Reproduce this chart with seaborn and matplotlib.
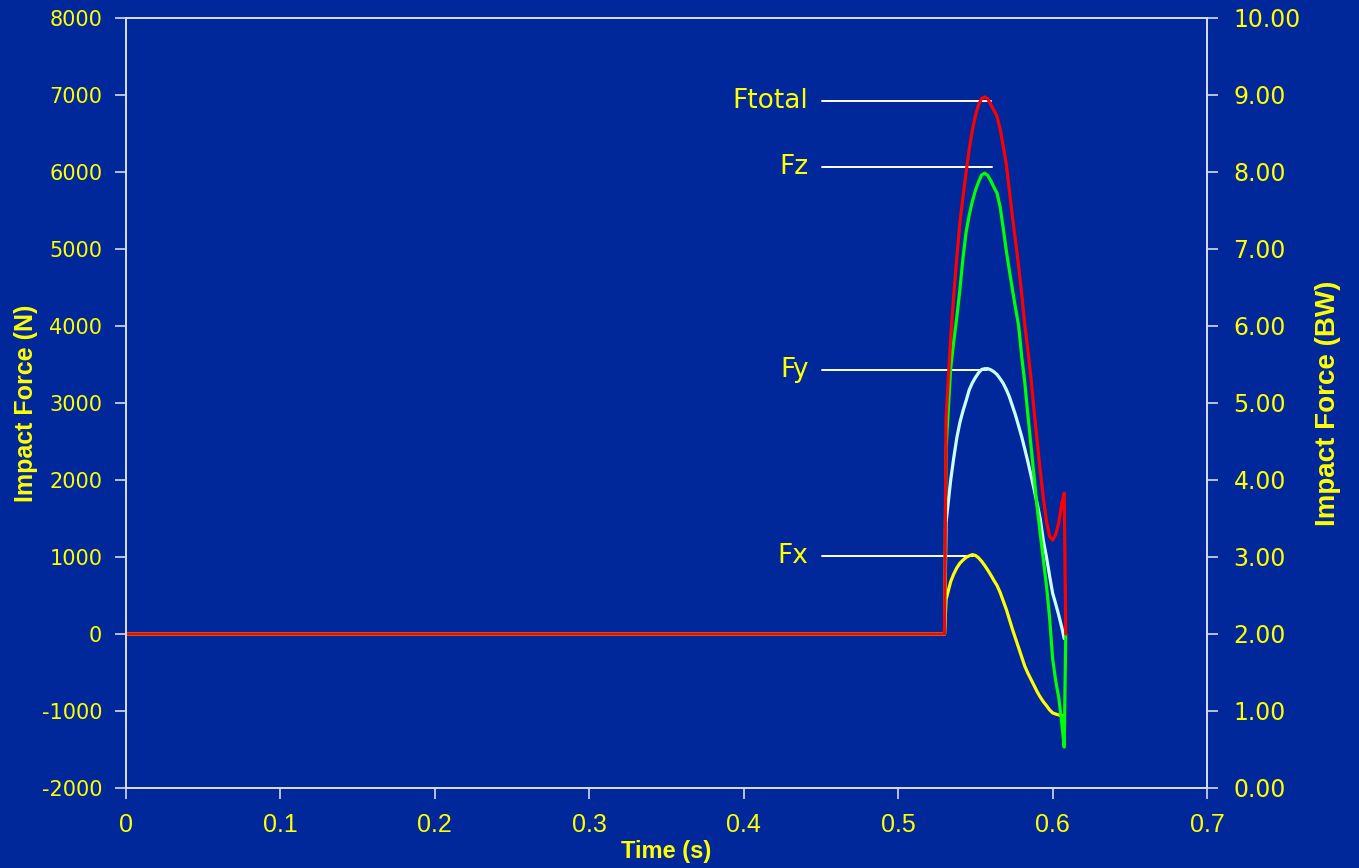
import numpy as np
import pandas as pd
import matplotlib
matplotlib.use("Agg")
import matplotlib.pyplot as plt
import seaborn as sns

# ---------------- data ----------------
time_s = [0.000, 0.530, 0.531,
          0.534, 0.536, 0.538, 0.540, 0.542, 0.544, 0.546, 0.548, 0.550, 0.552,
          0.554, 0.556, 0.558, 0.560, 0.562, 0.564, 0.566, 0.568, 0.570, 0.572,
          0.574, 0.576, 0.578, 0.580, 0.582, 0.584, 0.586, 0.588, 0.590, 0.592,
          0.594, 0.596, 0.598, 0.600, 0.602, 0.604, 0.606, 0.6075, 0.6085]

ftotal = [0, 0, 2800, 3850, 4400, 4900, 5350, 5680, 6000, 6300,
          6540, 6730, 6870, 6955, 6975, 6950, 6875, 6800, 6720, 6560,
          6340, 6100, 5760, 5410, 5100, 4770, 4410, 4010, 3680, 3320,
          2900, 2500, 2120, 1760, 1470, 1270, 1220, 1290, 1450, 1700,
          1830, 0]

fz = [0, 0, 2400, 3450, 3800, 4120, 4480, 4890, 5220, 5440,
      5615, 5760, 5870, 5960, 5985, 5955, 5885, 5800, 5725, 5550,
      5270, 4980, 4720, 4470, 4230, 4000, 3600, 3260, 2840, 2440,
      2040, 1640, 1300, 960, 630, 220, -320, -610, -830, -1170,
      -1470, 0]

fy = [0, 0, 1450, 2000, 2290, 2550, 2750, 2900, 3030, 3170,
      3260, 3330, 3390, 3435, 3445, 3446, 3430, 3405, 3370, 3315,
      3255, 3175, 3080, 2960, 2840, 2700, 2560, 2400, 2235, 2060,
      1880, 1690, 1490, 1210, 1000, 760, 530, 390, 240, 80,
      -60, np.nan]

fx = [0, 0, 450, 680, 780, 860, 920, 960, 995, 1015,
      1030, 1020, 990, 945, 890, 830, 765, 695, 630, 540,
      430, 320, 190, 60, -60, -180, -300, -420, -510, -590,
      -670, -750, -820, -880, -930, -985, -1025, -1040, -1052, -1062,
      -1065, np.nan]

components = ["Fx", "Fy", "Fz", "Ftotal"]
colors = {"Fx": "#FFFF00", "Fy": "#CCFFFF", "Fz": "#00FF00", "Ftotal": "#FF0000"}

# label annotations (name, force level, end of leader line in time)
label_names = ["Ftotal", "Fz", "Fy", "Fx"]
label_force = [6920, 6065, 3430, 1013]
label_line_end = [0.5602, 0.5609, 0.5576, 0.5486]
label_line_start = 0.4508
label_text_x = 0.4420

x_ticks = [0.0, 0.1, 0.2, 0.3, 0.4, 0.5, 0.6, 0.7]
x_tick_labels = ["0", "0.1", "0.2", "0.3", "0.4", "0.5", "0.6", "0.7"]
yl_ticks = [-2000, -1000, 0, 1000, 2000, 3000, 4000, 5000, 6000, 7000, 8000]
yr_ticks = [0, 1, 2, 3, 4, 5, 6, 7, 8, 9, 10]

# ---------------- style ----------------
BG = "#00289A"
SPINE = "#D8DCE8"
TXT = "#FFFF00"

sns.set_theme(style="ticks")
plt.rcParams["font.family"] = ["Liberation Sans", "DejaVu Sans"]

fig = plt.figure(figsize=(13.59, 8.68), dpi=100)
fig.patch.set_facecolor(BG)
ax = fig.add_axes([0.0927, 0.0922, 0.7955, 0.8871])
ax.set_facecolor(BG)

df = pd.DataFrame({"Time": time_s, "Fx": fx, "Fy": fy, "Fz": fz, "Ftotal": ftotal})
long = df.melt(id_vars="Time", var_name="Component", value_name="Force").dropna()

sns.lineplot(data=long, x="Time", y="Force", hue="Component",
             hue_order=components, palette=colors, estimator=None,
             sort=False, linewidth=2.3, legend=False, ax=ax)

ax.set_xlim(0, 0.7)
ax.set_ylim(-2000, 8000)
ax.set_xticks(x_ticks)
ax.set_xticklabels(x_tick_labels)
ax.set_yticks(yl_ticks)
ax.set_yticklabels([str(v) for v in yl_ticks])

for s in ["left", "right", "top", "bottom"]:
    ax.spines[s].set_visible(True)
    ax.spines[s].set_color(SPINE)
    ax.spines[s].set_linewidth(1.3)

ax.tick_params(axis="x", bottom=True, top=False, direction="out", length=8,
               width=1.2, color=SPINE, labelcolor=TXT, labelsize=18, pad=10)
ax.tick_params(axis="y", left=True, right=False, direction="out", length=8,
               width=1.2, color=SPINE, labelcolor=TXT, labelsize=15, pad=9)
for lab in ax.get_yticklabels():
    lab.set_fontfamily("DejaVu Sans")

ax.set_xlabel("Time (s)", color=TXT, fontsize=17, fontweight="bold", labelpad=2)
ax.set_ylabel("Impact Force (N)", color=TXT, fontsize=18, fontweight="bold", labelpad=3)

# leader lines and labels
for name, fy_, xe in zip(label_names, label_force, label_line_end):
    ax.plot([label_line_start, xe], [fy_, fy_], color="white", linewidth=1.4, zorder=1)
    ax.text(label_text_x, fy_, name, color=TXT, fontsize=19, ha="right",
            va="center", family="DejaVu Sans")

# right axis in body weights
ax2 = ax.twinx()
ax2.set_ylim(0, 10)
ax2.set_yticks(yr_ticks)
ax2.set_yticklabels([f"{v:.2f}" for v in yr_ticks])
for s in ["left", "right", "top", "bottom"]:
    ax2.spines[s].set_color(SPINE)
    ax2.spines[s].set_linewidth(1.3)
ax2.tick_params(axis="y", right=True, left=False, direction="out", length=8,
                width=1.2, color=SPINE, labelcolor=TXT, labelsize=17, pad=11)
for lab in ax2.get_yticklabels():
    lab.set_fontfamily("DejaVu Sans")
ax2.set_ylabel("Impact Force (BW)", color=TXT, fontsize=20, fontweight="bold",
               labelpad=10, rotation=90)

fig.savefig("out.png", dpi=100, facecolor=BG)
